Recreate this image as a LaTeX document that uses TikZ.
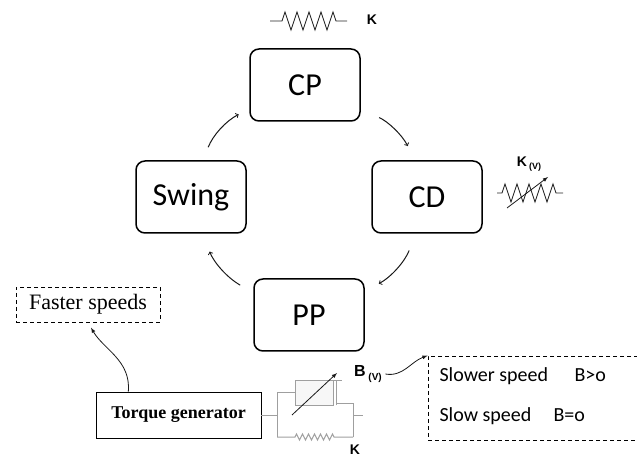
\documentclass[tikz,border=0pt]{standalone}
\usepackage{fontspec}
\setmainfont{Carlito}
\newfontfamily\timesfont{Liberation Serif}
\newfontfamily\arialfont{Liberation Sans}
\usetikzlibrary{arrows,decorations.pathmorphing,positioning}

\begin{document}
\begin{tikzpicture}[x=1pt,y=1pt,
  phase/.style={draw,line width=1.5pt,rounded corners=9pt,minimum width=110pt,minimum height=72pt,font=\fontsize{32}{36}\selectfont},
  phasearrow/.style={->,gray!20!black,line width=1pt,bend left=20},
  pointer/.style={-latex,gray!20!black,line width=0.8pt},
  dashbox/.style={draw,dash pattern=on 4pt off 3pt,line width=0.8pt},
  klabel/.style={font=\arialfont\bfseries\fontsize{14}{14}\selectfont},
  circuit/.style={gray!75,line width=1pt},
  bigspring/.style={decorate,decoration={zigzag,segment length=12pt,amplitude=9pt,pre length=12pt,post length=10pt}},
  smallspring/.style={decorate,decoration={zigzag,segment length=6pt,amplitude=3pt,pre length=18pt,post length=18pt}}]

\useasboundingbox (0,0) rectangle (637,458);

% the four phases
\def\phases{cp/CP/305/373,cd/CD/427/261,pp/PP/309/143,swing/Swing/191/261}
\foreach \n/\t/\x/\y in \phases
  \node[phase] (\n) at (\x,\y) {\t};

\draw[phasearrow,shorten <=14pt,shorten >=12pt] (swing.72) to (cp.203);
\draw[phasearrow,shorten <=20pt,shorten >=16pt] (cp.-24) to (cd.108);
\draw[phasearrow,shorten <=18pt,shorten >=16pt] (cd.253) to (pp.23);
\draw[phasearrow,shorten <=15pt,shorten >=19pt] (pp.158) to (swing.-72);

% stiffness at CP
\draw[line width=0.9pt,gray!30!black,bigspring] (270,437) -- (347,437);
\node[klabel] (kcp) at (372,438) {K};

% variable stiffness at CD
\draw[line width=0.9pt,gray!30!black,bigspring,decoration={pre length=5pt,post length=5pt}] (497,265) -- (563,265);
\draw[pointer] (507,250) -- (548,281);
\node[klabel] (kcd) at (529,294) {K\,\raisebox{-0.5ex}{\fontsize{9}{9}\selectfont(V)}};

% generator side
\node[draw,line width=0.8pt,minimum width=165pt,minimum height=46pt,font=\timesfont\bfseries\fontsize{18}{20}\selectfont] (tg) at (178.5,43) {Torque generator};
\node[dashbox,minimum width=144pt,minimum height=35pt,font=\timesfont\fontsize{22}{24}\selectfont] (faster) at (88,153.5) {Faster speeds};
\draw[pointer,shorten >=6pt] (tg.155) to[out=85,in=-60] (faster.south);

% damper and spring
\draw[circuit] (tg.east) -- (277,43);
\draw[circuit] (277,21) -- (277,66) -- (295,66);
\draw[circuit,fill=gray!6] (295,53) rectangle (333,78);
\draw[circuit] (333,78) -- (342,78);
\draw[circuit] (336,53) -- (336,78);
\draw[circuit] (336,55) -- (353,55) -- (353,21);
\draw[circuit] (353,43) -- (363,43);
\draw[circuit,smallspring] (277,21) -- (353,21);
\draw[pointer] (292,43) -- (337,85);
\node[klabel,font=\arialfont\bfseries\fontsize{16}{16}\selectfont] (bv) at (368,84) {B\,\raisebox{-0.5ex}{\fontsize{10}{10}\selectfont(V)}};
\node[klabel] (kpp) at (355,8) {K};

% speed modes
\node[dashbox,minimum width=217pt,minimum height=84pt] (modes) at (536.5,60) {};
\draw[pointer] (bv.east) to[out=-10,in=200] (modes.north west);
\begin{scope}[every node/.style={anchor=base west,font=\fontsize{20}{22}\selectfont}]
\node (slower) at (436,77) {Slower speed};
\node (bpos) at (571,77) {B>o};
\node (slow) at (436,37) {Slow speed};
\node (bzero) at (550,37) {B=o};
\end{scope}

\end{tikzpicture}
\end{document}
